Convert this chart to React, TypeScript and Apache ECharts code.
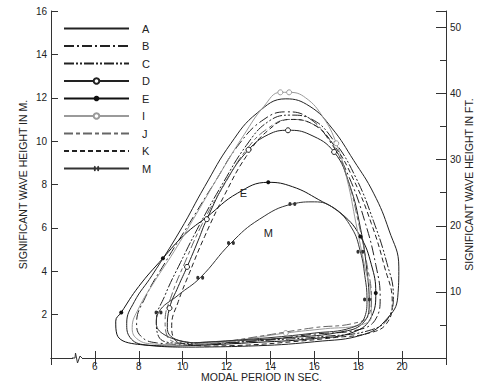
import React, { useEffect, useRef } from "react";
import * as echarts from "echarts";

// x: modal period (s), y: significant wave height (m) - closed loops
const loopA: number[][] = [[10.0,0.5],[8.3,0.6],[7.6,0.95],[7.45,1.6],[7.8,2.6],[8.6,3.8],[9.9,5.9],[11.0,7.9],[12.2,9.9],[13.4,11.3],[14.7,11.95],[15.8,11.6],[16.8,10.6],[17.8,9.1],[18.7,7.6],[19.4,5.9],[19.85,4.2],[19.8,2.8],[19.3,1.8],[18.3,1.1],[16.0,0.75],[13.0,0.55],[10.0,0.5]];
const loopB: number[][] = [[10.5,0.6],[8.8,0.7],[8.1,1.0],[7.9,1.6],[8.3,2.8],[9.2,4.4],[10.3,6.2],[11.4,8.0],[12.6,9.9],[13.7,11.0],[14.7,11.35],[15.7,11.1],[16.7,10.0],[17.6,8.3],[18.3,6.3],[18.8,4.3],[19.0,2.8],[18.8,1.8],[18.0,1.3],[16.0,1.1],[13.5,0.8],[10.5,0.6]];
const loopC: number[][] = [[11.0,0.65],[9.5,0.7],[8.9,1.0],[8.8,1.7],[9.2,2.9],[9.9,4.4],[10.8,6.2],[11.8,8.0],[12.9,9.8],[13.9,10.9],[14.9,11.2],[15.9,11.0],[16.9,10.0],[17.9,8.3],[18.7,6.3],[19.3,4.4],[19.6,2.9],[19.4,1.9],[18.6,1.3],[16.5,1.0],[13.5,0.8],[11.0,0.65]];
const loopD: number[][] = [[10.5,0.7],[9.6,0.9],[9.3,1.4],[9.4,2.3],[9.8,3.3],[10.2,4.2],[10.7,5.4],[11.1,6.4],[12.0,8.2],[13.0,9.6],[13.9,10.3],[14.8,10.5],[15.8,10.3],[16.9,9.5],[17.6,8.0],[18.1,6.0],[18.4,4.0],[18.5,2.5],[18.2,1.6],[17.2,1.2],[15.0,0.95],[12.5,0.8],[10.5,0.7]];
const markD: number[] = [3, 5, 7, 9, 11, 13];
const loopE: number[][] = [[9.5,0.55],[7.8,0.65],[7.0,1.1],[6.95,1.7],[7.2,2.1],[8.0,3.3],[9.1,4.6],[10.1,5.7],[11.1,6.5],[12.5,7.6],[13.9,8.1],[15.0,7.9],[16.2,7.3],[17.3,6.6],[18.1,5.6],[18.6,4.3],[18.8,3.0],[18.6,1.9],[17.8,1.2],[16.0,0.9],[13.0,0.7],[11.0,0.6],[9.5,0.55]];
const markE: number[] = [4, 6, 10, 14, 16];
const loopI: number[][] = [[10.0,0.6],[8.6,0.65],[7.9,0.9],[7.7,1.4],[8.0,2.3],[8.7,3.5],[9.6,4.9],[10.6,6.6],[11.7,8.5],[12.8,10.3],[13.7,11.6],[14.45,12.25],[14.85,12.25],[15.6,12.0],[16.4,11.1],[17.0,9.9],[17.5,8.2],[17.9,6.2],[18.3,4.2],[18.6,2.7],[18.6,1.9],[18.0,1.5],[16.5,1.35],[14.7,1.15],[12.0,0.75],[10.0,0.6]];
const markI: number[] = [11, 12, 15, 23];
const loopJ: number[][] = [[11.0,0.6],[9.8,0.7],[9.3,1.0],[9.2,1.7],[9.5,2.9],[10.1,4.4],[10.9,6.2],[11.9,8.0],[12.9,9.6],[13.9,10.6],[14.9,11.0],[15.9,10.8],[16.8,9.9],[17.5,8.3],[18.0,6.3],[18.4,4.3],[18.6,2.8],[18.5,2.0],[17.8,1.6],[16.0,1.4],[13.5,1.0],[11.0,0.6]];
const loopK: number[][] = [[11.2,0.55],[10.1,0.65],[9.6,0.9],[9.5,1.5],[9.8,2.6],[10.3,3.9],[11.0,5.6],[11.9,7.5],[12.9,9.3],[13.9,10.5],[14.9,11.0],[15.9,10.8],[16.9,9.8],[17.8,8.2],[18.6,6.2],[19.2,4.2],[19.55,2.6],[19.3,1.6],[18.5,1.15],[17.0,0.95],[15.0,0.75],[13.0,0.6],[11.2,0.55]];
const loopM: number[][] = [[10.5,0.7],[9.3,1.0],[8.8,1.6],[8.9,2.1],[9.8,2.9],[10.8,3.7],[12.2,5.3],[13.5,6.4],[15.0,7.1],[16.0,7.2],[16.9,6.9],[17.7,6.0],[18.1,4.9],[18.3,3.8],[18.4,2.7],[18.3,1.9],[17.7,1.4],[16.0,1.15],[13.5,0.9],[10.5,0.7]];
const markM: number[] = [3, 5, 6, 8, 12, 14];

const seriesNames: string[] = ["A", "B", "C", "D", "E", "I", "J", "K", "M"];
const plainLines: string[] = ["A", "B", "C", "J", "K"];
const xTicks: number[] = [6, 8, 10, 12, 14, 16, 18, 20];
const ftTicks: number[] = [10, 20, 30, 40, 50];
const labelE: number[] = [12.77, 7.59];
const labelM: number[] = [13.9, 5.75];

const FONT = "Liberation Sans, Arial, sans-serif";
const INK = "#222";
const GRAY = "#9a9a9a";
const M_TO_FT = 1 / 0.3048;
const DOUBLE_DOT =
  "path://M0,2a2,2 0 1,0 4,0a2,2 0 1,0 -4,0M6,2a2,2 0 1,0 4,0a2,2 0 1,0 -4,0";

function build(points: number[][], marks: number[]) {
  return points.map((p, i) =>
    marks.indexOf(i) >= 0 ? { value: p } : { value: p, symbol: "none" }
  );
}

export default function App() {
  const ref = useRef<HTMLDivElement>(null);
  useEffect(() => {
    if (!ref.current) return;
    const chart = echarts.init(ref.current, undefined, { renderer: "svg" });
    const base = (name: string, pts: number[][], marks: number[], color: string, type: any, extra: any = {}) => ({
      name,
      type: "line",
      data: build(pts, marks),
      smooth: 0.45,
      showAllSymbol: true,
      symbol: "none",
      lineStyle: { color, width: 1, type },
      itemStyle: { color },
      emphasis: { disabled: true },
      ...extra,
    });
    const labelPoint = (txt: string, coord: number[]) => ({
      symbol: "circle",
      symbolSize: 1,
      itemStyle: { color: "rgba(0,0,0,0)" },
      label: { show: true, position: "inside", color: INK, fontFamily: FONT, fontSize: 11, formatter: txt },
      data: [{ coord }],
    });
    const series: any[] = [
      base("A", loopA, [], INK, "solid"),
      base("B", loopB, [], INK, [10, 3, 2, 3]),
      base("C", loopC, [], INK, [10, 2, 2, 2, 2, 2]),
      base("D", loopD, markD, INK, "solid", {
        symbol: "circle",
        symbolSize: 5,
        itemStyle: { color: "#fff", borderColor: INK, borderWidth: 1 },
      }),
      base("E", loopE, markE, "#111", "solid", {
        symbol: "circle",
        symbolSize: 4,
        itemStyle: { color: "#111" },
        markPoint: labelPoint("E", labelE),
      }),
      base("I", loopI, markI, GRAY, "solid", {
        symbol: "circle",
        symbolSize: 5,
        itemStyle: { color: "#fff", borderColor: GRAY, borderWidth: 1 },
      }),
      base("J", loopJ, [], "#666", [9, 3, 4, 3]),
      base("K", loopK, [], INK, [5, 3]),
      base("M", loopM, markM, "#333", "solid", {
        symbol: DOUBLE_DOT,
        symbolSize: [8, 4],
        itemStyle: { color: "#333" },
        markPoint: labelPoint("M", labelM),
      }),
    ];
    const axisLine = { show: true, lineStyle: { color: "#333", width: 1 } };
    const labelStyle = { color: INK, fontFamily: FONT, fontSize: 10 };
    chart.setOption({
      animation: false,
      textStyle: { fontFamily: FONT },
      grid: { left: 51, right: 33, top: 11, bottom: 26, containLabel: false, outerBoundsMode: "none" },
      legend: {
        data: seriesNames.map((n) =>
          plainLines.indexOf(n) >= 0
            ? { name: n, itemStyle: { opacity: 0, color: "rgba(0,0,0,0)", borderWidth: 0 } }
            : { name: n }
        ),
        orient: "vertical",
        left: 58,
        top: 18,
        itemWidth: 65,
        itemHeight: 7,
        itemGap: 6.5,
        textStyle: { color: INK, fontFamily: FONT, fontSize: 11, padding: [0, 0, 0, 8] },
        selectedMode: false,
      },
      xAxis: [
        {
          type: "value",
          min: 4,
          max: 22,
          interval: 2,
          position: "bottom",
          axisLine,
          axisTick: { show: true, inside: true, length: 7, lineStyle: { color: "#333" } },
          axisLabel: {
            ...labelStyle,
            margin: 3,
            lineHeight: 10,
            formatter: (v: number) => (xTicks.indexOf(v) >= 0 ? String(v) : ""),
          },
          splitLine: { show: false },
          name: "MODAL PERIOD IN SEC.",
          nameLocation: "middle",
          nameGap: 13.5,
          nameMoveOverlap: false,
          nameTextStyle: { color: INK, fontFamily: FONT, fontSize: 10.5, lineHeight: 11, padding: [0, 0, 0, 26] },
        },
        {
          type: "value",
          min: 4,
          max: 22,
          interval: 2,
          position: "top",
          axisLine,
          axisTick: { show: true, inside: true, length: 7, lineStyle: { color: "#333" } },
          axisLabel: { show: false },
          splitLine: { show: false },
        },
      ],
      yAxis: [
        {
          type: "value",
          min: 0,
          max: 16,
          interval: 2,
          position: "left",
          axisLine,
          axisTick: { show: true, inside: true, length: 7, lineStyle: { color: "#333" } },
          axisLabel: { ...labelStyle, margin: 4, formatter: (v: number) => (v === 0 ? "" : String(v)) },
          splitLine: { show: false },
          name: "SIGNIFICANT WAVE HEIGHT IN M.",
          nameLocation: "middle",
          nameRotate: 90,
          nameGap: 23,
          nameMoveOverlap: false,
          nameTextStyle: { color: INK, fontFamily: FONT, fontSize: 10.5 },
        },
        {
          type: "value",
          min: 0,
          max: 16 * M_TO_FT,
          interval: 10,
          position: "right",
          axisLine,
          axisTick: { show: true, inside: true, length: 10, lineStyle: { color: "#333" } },
          minorTick: { show: true, splitNumber: 2, length: 6, lineStyle: { color: "#333" } },
          axisLabel: {
            ...labelStyle,
            margin: 4,
            showMaxLabel: false,
            formatter: (v: number) => (ftTicks.indexOf(v) >= 0 ? String(v) : ""),
          },
          splitLine: { show: false },
          name: "SIGNIFICANT WAVE HEIGHT IN FT.",
          nameLocation: "middle",
          nameRotate: 90,
          nameGap: 17,
          nameMoveOverlap: false,
          nameTextStyle: { color: INK, fontFamily: FONT, fontSize: 10.5, lineHeight: 11 },
        },
      ],
      graphic: [
        { type: "rect", shape: { x: 73, y: 354, width: 9, height: 8 }, style: { fill: "#fff" }, z: 100 },
        {
          type: "polyline",
          shape: { points: [[72, 358], [75, 358], [75.5, 353], [77.5, 363], [80, 356], [82, 358]] },
          style: { stroke: "#333", lineWidth: 1, fill: "none" },
          z: 101,
        },
      ],
      series,
    });
    return () => chart.dispose();
  }, []);
  return (
    <div
      ref={ref}
      style={{ position: "absolute", left: 0, top: 0, width: 479, height: 384, background: "#fff" }}
    />
  );
}
